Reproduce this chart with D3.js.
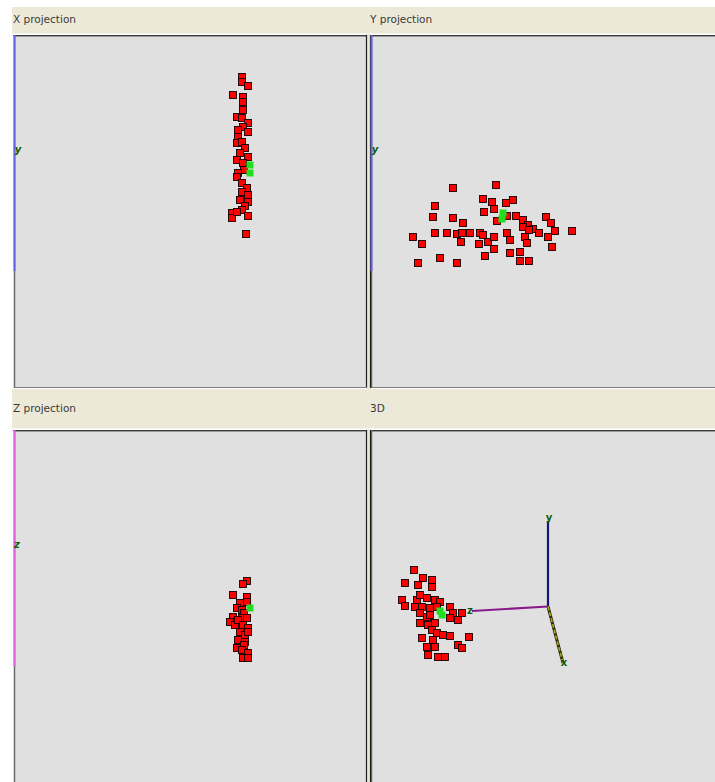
<!DOCTYPE html>
<html>
<head>
<meta charset="utf-8">
<script src="https://cdn.jsdelivr.net/npm/d3@7"></script>
<style>
  html, body { margin: 0; padding: 0; background: #ffffff; }
  svg { display: block; }
  text { font-family: "DejaVu Sans", sans-serif; }
</style>
</head>
<body>
<svg id="view" width="715" height="782"></svg>
<script>
// Panel titles, in reading order
const panelTitles = ["X projection", "Y projection", "Z projection", "3D"];

// Point cloud as seen in each view: [horizontal, vertical] in view units
const xProjRed = [
  [228,42],[228,47],[234,51],[219,60],[229,62],[229,67],[229,75],[223,82],[228,83],
  [234,88],[229,92],[234,97],[224,95],[224,102],[223,108],[228,107],[231,113],[226,118],
  [234,122],[223,125],[229,128],[230,135],[224,138],[223,142],[228,148],[233,153],
  [228,157],[234,160],[226,165],[234,167],[231,171],[228,175],[218,178],[218,183],
  [223,177],[234,181],[232,199]
];
const xProjGreen = [[236,130],[236,138]];

const yProjRed = [
  [82,153],[125,150],[64,171],[62,182],[82,183],[92,188],[42,202],[51,209],[64,198],
  [76,198],[86,199],[91,198],[90,207],[99,198],[109,198],[112,200],[108,209],[117,207],
  [123,202],[123,214],[47,228],[69,223],[86,228],[114,221],[112,164],[121,167],[113,177],
  [123,174],[135,168],[142,165],[126,186],[136,181],[145,181],[152,185],[157,190],
  [162,194],[152,192],[158,195],[168,198],[175,182],[180,188],[184,196],[201,196],
  [177,202],[181,212],[136,198],[139,205],[154,202],[156,208],[139,218],[149,217],
  [149,226],[158,226]
];
const yProjGreen = [[132,178],[131,184]];

const zProjRed = [
  [233,151],[229,154],[219,165],[233,167],[233,172],[226,173],[223,178],[228,180],
  [230,183],[219,187],[216,192],[221,195],[228,188],[233,188],[224,190],[229,195],
  [234,198],[226,202],[231,205],[234,202],[224,210],[231,212],[230,215],[223,218],
  [228,220],[234,223],[229,228],[234,228]
];
const zProjGreen = [[236,178]];

const view3dRed = [
  [43,140],[34,153],[52,148],[61,150],[47,155],[61,157],[31,170],[34,176],[46,170],
  [49,165],[56,168],[64,170],[69,172],[44,177],[51,177],[59,178],[66,177],[49,183],
  [56,187],[59,185],[79,177],[82,183],[91,183],[79,188],[87,190],[49,193],[57,195],
  [64,193],[61,200],[66,203],[72,205],[79,206],[51,208],[62,210],[98,207],[56,217],
  [64,217],[87,215],[91,218],[57,225],[67,227],[74,227]
];
const view3dGreen = [[71,185],[69,181]];

// Axis lines per view: name, start, end, colour role
const projAxisLines = [
  { panel: 0, from: [0.5, 0], to: [0.5, 236], kind: "blue",    label: "y", at: [4, 115] },
  { panel: 1, from: [0.5, 0], to: [0.5, 236], kind: "blue",    label: "y", at: [4, 115] },
  { panel: 2, from: [0.5, 0], to: [0.5, 236], kind: "magenta", label: "z", at: [3, 115] }
];
const view3dAxes = [
  { name: "y", from: [177, 176.5], to: [177, 91],  kind: "navy" },
  { name: "z", from: [177, 176.5], to: [101, 181], kind: "purple" },
  { name: "x", from: [177, 176.5], to: [192, 233], kind: "olive" }
];

const colours = {
  blue: "#6464e6", magenta: "#e060e0", navy: "#14147c",
  purple: "#8a1a8a", olive: "#a6a626", header: "#ECE9D8", pane: "#E0E0E0"
};

const svg = d3.select("#view");

// Layout of the four panes (pixel frames)
const frames = [
  { x: 14,  y: 35,  w: 352, h: 353 },
  { x: 371, y: 35,  w: 344, h: 353 },
  { x: 14,  y: 430, w: 352, h: 352 },
  { x: 371, y: 430, w: 344, h: 352 }
];

// Header strips
svg.append("rect").attr("x", 12).attr("y", 7).attr("width", 703).attr("height", 27).attr("fill", colours.header);
svg.append("rect").attr("x", 12).attr("y", 389).attr("width", 703).attr("height", 39).attr("fill", colours.header);
svg.append("line").attr("x1", 12).attr("x2", 715).attr("y1", 33.5).attr("y2", 33.5).attr("stroke", "#f6f4ec");
svg.append("line").attr("x1", 12).attr("x2", 715).attr("y1", 428.5).attr("y2", 428.5).attr("stroke", "#f6f4ec");

// Divider strip between the columns
svg.append("rect").attr("x", 366).attr("y", 34).attr("width", 5).attr("height", 355).attr("fill", colours.header);
svg.append("rect").attr("x", 366).attr("y", 429).attr("width", 5).attr("height", 353).attr("fill", colours.header);

// Titles
const titlePos = [[13, 23], [370, 23], [13, 412], [370, 412]];
svg.selectAll("text.title").data(panelTitles).join("text")
  .attr("class", "title")
  .attr("x", (d, i) => titlePos[i][0])
  .attr("y", (d, i) => titlePos[i][1])
  .attr("font-size", 10.5)
  .attr("fill", "#3a3a3a")
  .text(d => d);

// Panes with borders and scales
const scales = frames.map(f => ({
  x: d3.scaleLinear().domain([0, f.w]).range([f.x, f.x + f.w]),
  y: d3.scaleLinear().domain([0, f.h]).range([f.y, f.y + f.h])
}));

const panes = frames.map((f, i) => {
  const g = svg.append("g").attr("class", "pane");
  g.append("rect").attr("x", f.x).attr("y", f.y).attr("width", f.w).attr("height", f.h).attr("fill", colours.pane);
  // top edge
  g.append("line").attr("x1", f.x - 1).attr("x2", f.x + f.w).attr("y1", f.y + 0.5).attr("y2", f.y + 0.5)
    .attr("stroke", "#3c3c3c").attr("stroke-width", 1);
  g.append("line").attr("x1", f.x).attr("x2", f.x + f.w).attr("y1", f.y + 1.5).attr("y2", f.y + 1.5)
    .attr("stroke", "#9a9a9a").attr("stroke-width", 1);
  // left edge
  g.append("line").attr("x1", f.x + 0.5).attr("x2", f.x + 0.5).attr("y1", f.y).attr("y2", f.y + f.h)
    .attr("stroke", "#6a6a6a").attr("stroke-width", 1.5);
  if (i % 2 === 0) {
    // right edge of the left column
    g.append("line").attr("x1", f.x + f.w + 0.5).attr("x2", f.x + f.w + 0.5).attr("y1", f.y).attr("y2", f.y + f.h)
      .attr("stroke", "#1e1e1e").attr("stroke-width", 1.2);
  }
  if (i < 2) {
    // bottom edge of the top row
    g.append("line").attr("x1", f.x).attr("x2", f.x + f.w + 1).attr("y1", f.y + f.h - 0.5).attr("y2", f.y + f.h - 0.5)
      .attr("stroke", "#7c7c7c").attr("stroke-width", 1.2);
  }
  if (i % 2 === 1) {
    g.append("line").attr("x1", f.x - 0.5).attr("x2", f.x - 0.5).attr("y1", f.y).attr("y2", f.y + f.h)
      .attr("stroke", "#1e1e1e").attr("stroke-width", 1.2);
  }
  return g;
});

// Projection axis lines with their small labels
projAxisLines.forEach(a => {
  const s = scales[a.panel];
  panes[a.panel].append("line")
    .attr("x1", s.x(a.from[0])).attr("y1", s.y(a.from[1]))
    .attr("x2", s.x(a.to[0])).attr("y2", s.y(a.to[1]))
    .attr("stroke", colours[a.kind]).attr("stroke-width", 2);
  panes[a.panel].append("text")
    .attr("x", s.x(a.at[0])).attr("y", s.y(a.at[1]))
    .attr("text-anchor", "middle").attr("dominant-baseline", "middle")
    .attr("font-size", 10).attr("font-weight", "bold").attr("font-style", "italic")
    .attr("fill", "#0b5e0b")
    .text(a.label);
});

// 3D axes
const s3 = scales[3];
view3dAxes.forEach(a => {
  const line = panes[3].append("g");
  if (a.kind === "olive") {
    line.append("line")
      .attr("x1", s3.x(a.from[0])).attr("y1", s3.y(a.from[1]))
      .attr("x2", s3.x(a.to[0])).attr("y2", s3.y(a.to[1]))
      .attr("stroke", "#2a2a08").attr("stroke-width", 3);
    line.append("line")
      .attr("x1", s3.x(a.from[0])).attr("y1", s3.y(a.from[1]))
      .attr("x2", s3.x(a.to[0])).attr("y2", s3.y(a.to[1]))
      .attr("stroke", colours.olive).attr("stroke-width", 1.6).attr("stroke-dasharray", "4 2");
  } else {
    line.append("line")
      .attr("x1", s3.x(a.from[0])).attr("y1", s3.y(a.from[1]))
      .attr("x2", s3.x(a.to[0])).attr("y2", s3.y(a.to[1]))
      .attr("stroke", colours[a.kind]).attr("stroke-width", 2.2);
  }
  panes[3].append("text")
    .attr("x", s3.x(a.to[0]) + (a.name === "z" ? -2 : 1))
    .attr("y", s3.y(a.to[1]) + (a.name === "y" ? -3 : 0))
    .attr("text-anchor", "middle").attr("dominant-baseline", "middle")
    .attr("font-size", 10).attr("font-weight", "bold")
    .attr("fill", "#0b5e0b")
    .text(a.name);
});

// Point markers
function drawPoints(panel, red, green) {
  const s = scales[panel];
  const g = panes[panel].append("g");
  g.selectAll("rect.red").data(red).join("rect")
    .attr("class", "red")
    .attr("x", d => s.x(d[0]) - 3.5).attr("y", d => s.y(d[1]) - 3.5)
    .attr("width", 7).attr("height", 7)
    .attr("fill", "#ff0000").attr("stroke", "#140000").attr("stroke-width", 0.9);
  g.selectAll("rect.green").data(green).join("rect")
    .attr("class", "green")
    .attr("x", d => s.x(d[0]) - 3.5).attr("y", d => s.y(d[1]) - 3.5)
    .attr("width", 7).attr("height", 7)
    .attr("fill", "#22dd22");
}
drawPoints(0, xProjRed, xProjGreen);
drawPoints(1, yProjRed, yProjGreen);
drawPoints(2, zProjRed, zProjGreen);
drawPoints(3, view3dRed, view3dGreen);
</script>
</body>
</html>
